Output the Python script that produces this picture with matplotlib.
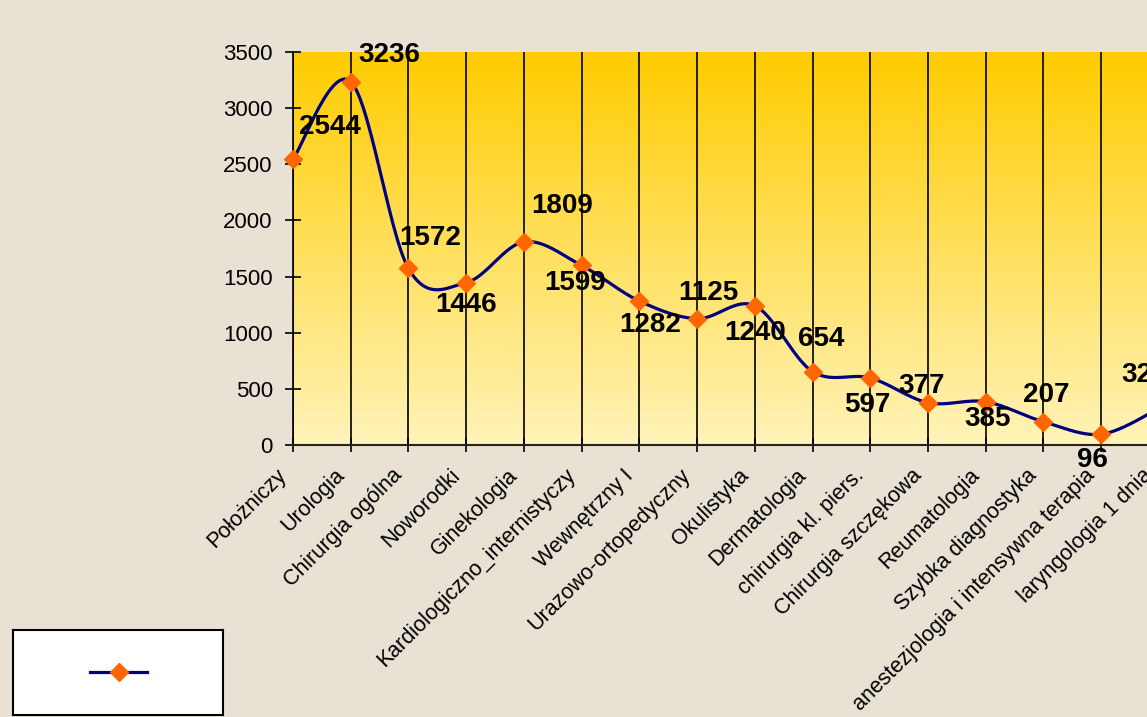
import numpy as np
import matplotlib.pyplot as plt
import matplotlib.transforms as mtrans
from matplotlib.lines import Line2D

plt.rcParams['font.family'] = ['Liberation Sans', 'DejaVu Sans']

oddzialy = ['Położniczy', 'Urologia', 'Chirurgia ogólna', 'Noworodki', 'Ginekologia',
            'Kardiologiczno_internistyczy', 'Wewnętrzny I', 'Urazowo-ortopedyczny',
            'Okulistyka', 'Dermatologia', 'chirurgia kl. piers.', 'Chirurgia szczękowa',
            'Reumatologia', 'Szybka diagnostyka', 'anestezjologia i intensywna terapia',
            'laryngologia 1 dnia']
wartosci = [2544, 3236, 1572, 1446, 1809, 1599, 1282, 1125, 1240, 654, 597, 377,
            385, 207, 96, 325]
# przesuniecia etykiet (piksele)
etykiety_dx = [37, 39, 22, 0, 38, -7, 11, 11, 0, 9, -3, -6, 2, 3, -9, -14]
etykiety_dy = [32, 27, 30, -22, 36, -18, -24, 26, -27, 33, -27, 17, -17, 27, -26, 34]

fig = plt.figure(figsize=(11.47, 7.17), dpi=100)
fig.patch.set_facecolor('#E8E1D4')

dx_px = 57.73
ax = fig.add_axes([293 / 1147, 1 - 445 / 717, 15 * dx_px / 1147, 393 / 717])
ax.set_xlim(0, len(oddzialy) - 1)
ax.set_ylim(0, 3500)

# gradient tla
top = np.array([255, 204, 0]) / 255
bot = np.array([255, 243, 185]) / 255
t = np.linspace(0, 1, 256)[:, None]
grad = (top * (1 - t) + bot * t)[:, None, :]
ax.imshow(grad, extent=[0, 1, 0, 1], transform=ax.transAxes, aspect='auto', zorder=0)

x = np.arange(len(wartosci))
y = np.array(wartosci, dtype=float)

# wygladzona linia (Bezier / Catmull-Rom jak w Excelu), liczona w pikselach
sx, sy = dx_px, 393 / 3500
P = np.column_stack([x * sx, y * sy])
Pext = np.vstack([P[0], P, P[-1]])
krzywa = []
s = np.linspace(0, 1, 30)[:, None]
for i in range(len(P) - 1):
    p0, p1, p2, p3 = Pext[i], Pext[i + 1], Pext[i + 2], Pext[i + 3]
    c1 = p1 + (p2 - p0) / 6
    c2 = p2 - (p3 - p1) / 6
    seg = ((1 - s) ** 3) * p1 + 3 * ((1 - s) ** 2) * s * c1 + 3 * (1 - s) * s ** 2 * c2 + s ** 3 * p2
    krzywa.append(seg)
krzywa = np.vstack(krzywa)
ax.plot(krzywa[:, 0] / sx, krzywa[:, 1] / sy, color='#000080', lw=2.3, zorder=3, clip_on=False)
ax.plot(x, y, linestyle='none', marker='D', ms=9, color='#FF6600', zorder=4, clip_on=False)

for xi, yi, ddx, ddy in zip(x, wartosci, etykiety_dx, etykiety_dy):
    ax.annotate(str(yi), (xi, yi), xytext=(ddx, ddy), textcoords='offset pixels',
                ha='center', va='center', fontsize=20, fontweight='bold', zorder=5,
                annotation_clip=False)

# etykiety kategorii (obrocone, reczne przesuniecie)
ax.set_xticks(x)
ax.set_xticklabels([])
przes = mtrans.ScaledTranslation(-17 / 100, -20 / 100, fig.dpi_scale_trans)
for xi, nazwa in zip(x, oddzialy):
    ax.text(xi, 0, nazwa, transform=ax.get_xaxis_transform() + przes,
            rotation=45, ha='right', va='top', rotation_mode='anchor',
            fontsize=15.5, clip_on=False)

ax.set_yticks(np.arange(0, 3501, 500))
ax.tick_params(axis='y', labelsize=16, length=11, width=1.2, direction='inout', pad=9)
ax.tick_params(axis='x', length=10, width=1.2, direction='inout')
ax.grid(axis='x', color='black', lw=1.2, zorder=1)
ax.set_axisbelow(True)
for sp in ['top', 'right']:
    ax.spines[sp].set_visible(False)
ax.spines['left'].set_linewidth(1.2)
ax.spines['bottom'].set_linewidth(1.5)
ax.spines['bottom'].set_color('#2a2410')

# legenda
lax = fig.add_axes([13 / 1147, 2 / 717, 210 / 1147, 85 / 717])
lax.set_facecolor('white')
lax.set_xticks([])
lax.set_yticks([])
for sp in lax.spines.values():
    sp.set_linewidth(1.5)
lax.set_xlim(0, 210)
lax.set_ylim(0, 85)
lax.add_line(Line2D([77, 134], [43, 43], color='#000080', lw=2.3))
lax.plot([105.5], [43], marker='D', ms=9, color='#FF6600')

fig.savefig('out.png', dpi=100)
